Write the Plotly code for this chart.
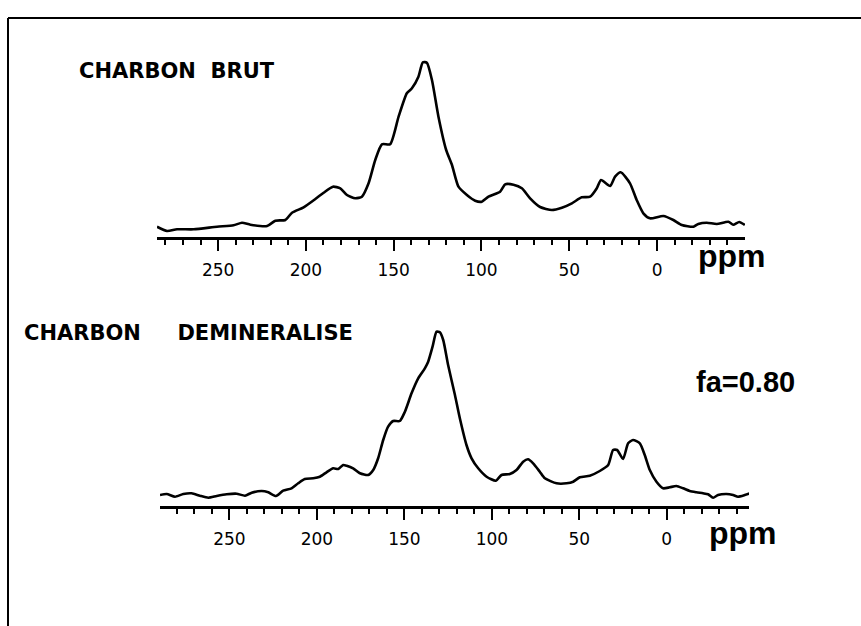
import plotly.graph_objects as go

# --- 13C CP/MAS spectra: chemical shift (ppm) and relative intensity ---
brut_ppm = [284.8, 279.1, 273.4, 263.9, 250.6, 241.2, 236.4, 231.6, 222.1, 217.4,
            211.7, 207.9, 201.3, 194.6, 189.9, 184.6, 180.4, 176.6, 171.9, 168.1,
            164.3, 160.5, 156.7, 152.0, 147.2, 142.5, 139.6, 135.9, 133.4, 131.1,
            128.2, 124.5, 120.1, 116.8, 113.1, 108.3, 103.6, 99.8, 96.0, 89.4,
            86.5, 81.8, 77.0, 72.3, 66.6, 59.9, 54.2, 48.5, 42.9, 38.1,
            34.3, 31.9, 26.7, 23.9, 20.7, 15.4, 11.6, 7.8, 4.0, -3.6,
            -9.3, -14.1, -20.7, -23.5, -28.3, -34.0, -40.6, -43.4, -46.8, -50.0]
brut_int = [10.3, 6.0, 7.7, 7.7, 10.3, 11.7, 14.3, 12.3, 11.0, 16.3,
            17.0, 24.3, 29.7, 38.0, 44.3, 50.3, 48.7, 42.0, 38.7, 40.3,
            53.7, 77.0, 92.7, 92.7, 120.3, 143.7, 148.7, 160.3, 174.7, 174.3,
            157.0, 120.3, 87.0, 72.0, 50.3, 42.0, 36.3, 35.3, 40.3, 45.3,
            52.7, 52.3, 48.7, 38.7, 30.0, 27.0, 29.3, 33.7, 39.7, 40.3,
            48.7, 57.0, 51.0, 60.3, 64.7, 53.7, 37.0, 23.7, 18.7, 21.0,
            17.0, 12.0, 10.3, 13.0, 14.3, 13.0, 15.3, 12.3, 15.0, 12.0]

demin_ppm = [289.7, 285.9, 281.1, 276.4, 271.6, 266.9, 262.1, 257.3, 251.6, 245.9,
             241.1, 237.3, 231.6, 227.8, 223.4, 219.3, 214.5, 210.7, 206.9, 202.1,
             198.3, 194.5, 190.7, 187.8, 185.0, 183.0, 179.3, 175.4, 170.7, 167.8,
             165.0, 162.1, 159.3, 156.4, 152.6, 149.7, 145.9, 142.1, 138.3, 136.4,
             133.9, 131.6, 129.7, 127.8, 125.0, 121.1, 118.3, 114.5, 111.6, 107.8,
             103.0, 97.7, 94.5, 89.7, 85.9, 82.1, 79.3, 76.4, 72.6, 69.7,
             63.0, 57.3, 53.5, 49.7, 44.0, 38.3, 33.5, 30.7, 28.4, 25.0,
             22.1, 19.3, 15.4, 12.6, 9.7, 5.9, 2.1, -1.7, -5.5, -9.3,
             -13.1, -17.0, -20.7, -23.6, -26.5, -29.3, -34.1, -37.9, -40.7, -44.6, -47.4]
demin_int = [11.0, 12.0, 9.3, 12.0, 12.7, 10.3, 8.3, 10.0, 11.7, 12.3,
             10.3, 13.3, 15.0, 13.7, 10.0, 15.3, 17.7, 22.7, 27.0, 27.7,
             29.3, 33.7, 37.7, 37.0, 41.0, 40.3, 37.7, 32.7, 31.0, 36.0,
             47.7, 66.0, 79.3, 85.0, 85.0, 94.3, 112.7, 127.7, 137.7, 144.3,
             159.3, 174.3, 173.7, 166.0, 141.0, 111.0, 87.7, 61.0, 47.7, 37.7,
             29.3, 25.3, 31.0, 32.0, 36.0, 44.3, 46.7, 42.7, 34.3, 27.7,
             22.7, 22.7, 24.3, 28.7, 30.3, 35.0, 41.0, 56.0, 56.0, 47.0,
             62.7, 66.0, 62.7, 51.0, 36.0, 24.3, 17.7, 18.7, 20.0, 17.7,
             15.0, 13.7, 12.7, 11.7, 8.3, 11.0, 12.0, 11.0, 9.3, 11.0, 12.7]

major_ticks = [250, 200, 150, 100, 50, 0]
minor_ticks = [280, 270, 260, 240, 230, 220, 210, 190, 180, 170, 160, 140, 130,
               120, 110, 90, 80, 70, 60, 40, 30, 20, 10, -10, -20, -30, -40]
tick_labels = ["250", "200", "150", "100", "50", "0"]

W, H = 861, 626


def px(x):
    return x / W


def py(y):
    return 1 - y / H


fig = go.Figure()
fig.add_trace(go.Scatter(x=brut_ppm, y=brut_int, mode="lines",
                         line=dict(color="black", width=2.6, shape="spline", smoothing=0.6),
                         xaxis="x", yaxis="y", showlegend=False, hoverinfo="skip"))
fig.add_trace(go.Scatter(x=demin_ppm, y=demin_int, mode="lines",
                         line=dict(color="black", width=2.6, shape="spline", smoothing=0.6),
                         xaxis="x2", yaxis="y2", showlegend=False, hoverinfo="skip"))

axis_common = dict(
    showline=True, linecolor="black", linewidth=2.5,
    showgrid=False, zeroline=False,
    ticks="outside", ticklen=11, tickwidth=2, tickcolor="black",
    tickvals=major_ticks, ticktext=tick_labels,
    tickfont=dict(family="DejaVu Sans", size=17, color="black"),
    ticklabelstandoff=5,
    minor=dict(ticks="outside", ticklen=5, tickwidth=2, tickcolor="black",
               tickvals=minor_ticks, showgrid=False),
)

fig.update_layout(
    width=W, height=H, autosize=False,
    margin=dict(l=0, r=0, t=0, b=0),
    paper_bgcolor="white", plot_bgcolor="white",
    xaxis=dict(domain=[px(157), px(745)], range=[284.8, -50.1], anchor="y", **axis_common),
    yaxis=dict(domain=[py(237), py(40)], range=[0, 197], visible=False, anchor="x"),
    xaxis2=dict(domain=[px(160), px(749)], range=[289.7, -47.0], anchor="y2", **axis_common),
    yaxis2=dict(domain=[py(506), py(306)], range=[0, 200], visible=False, anchor="x2"),
)

label_font = dict(family="DejaVu Sans", size=21, color="black", weight="bold")
annots = [
    dict(text="CHARBON\u00a0\u00a0BRUT", x=px(77), y=py(71), xanchor="left", yanchor="middle",
         font=label_font),
    dict(text="CHARBON\u00a0\u00a0\u00a0\u00a0\u00a0DEMINERALISE", x=px(22), y=py(333),
         xanchor="left", yanchor="middle", font=label_font),
    dict(text="ppm", x=px(732), y=py(256), xanchor="center", yanchor="middle",
         font=dict(family="Liberation Sans", size=32, color="black", weight="bold")),
    dict(text="ppm", x=px(743), y=py(533), xanchor="center", yanchor="middle",
         font=dict(family="Liberation Sans", size=32, color="black", weight="bold")),
    dict(text="fa=0.80", x=px(745), y=py(382), xanchor="center", yanchor="middle",
         font=dict(family="Liberation Sans", size=29, color="black", weight="bold")),
]
for a in annots:
    fig.add_annotation(xref="paper", yref="paper", showarrow=False, **a)

# Outer frame (top and left edges)
fig.add_shape(type="line", xref="paper", yref="paper", x0=px(8), x1=1, y0=py(18), y1=py(18),
              line=dict(color="black", width=2))
fig.add_shape(type="line", xref="paper", yref="paper", x0=px(8), x1=px(8), y0=py(18), y1=0,
              line=dict(color="black", width=2))

fig.write_html("out.html")
